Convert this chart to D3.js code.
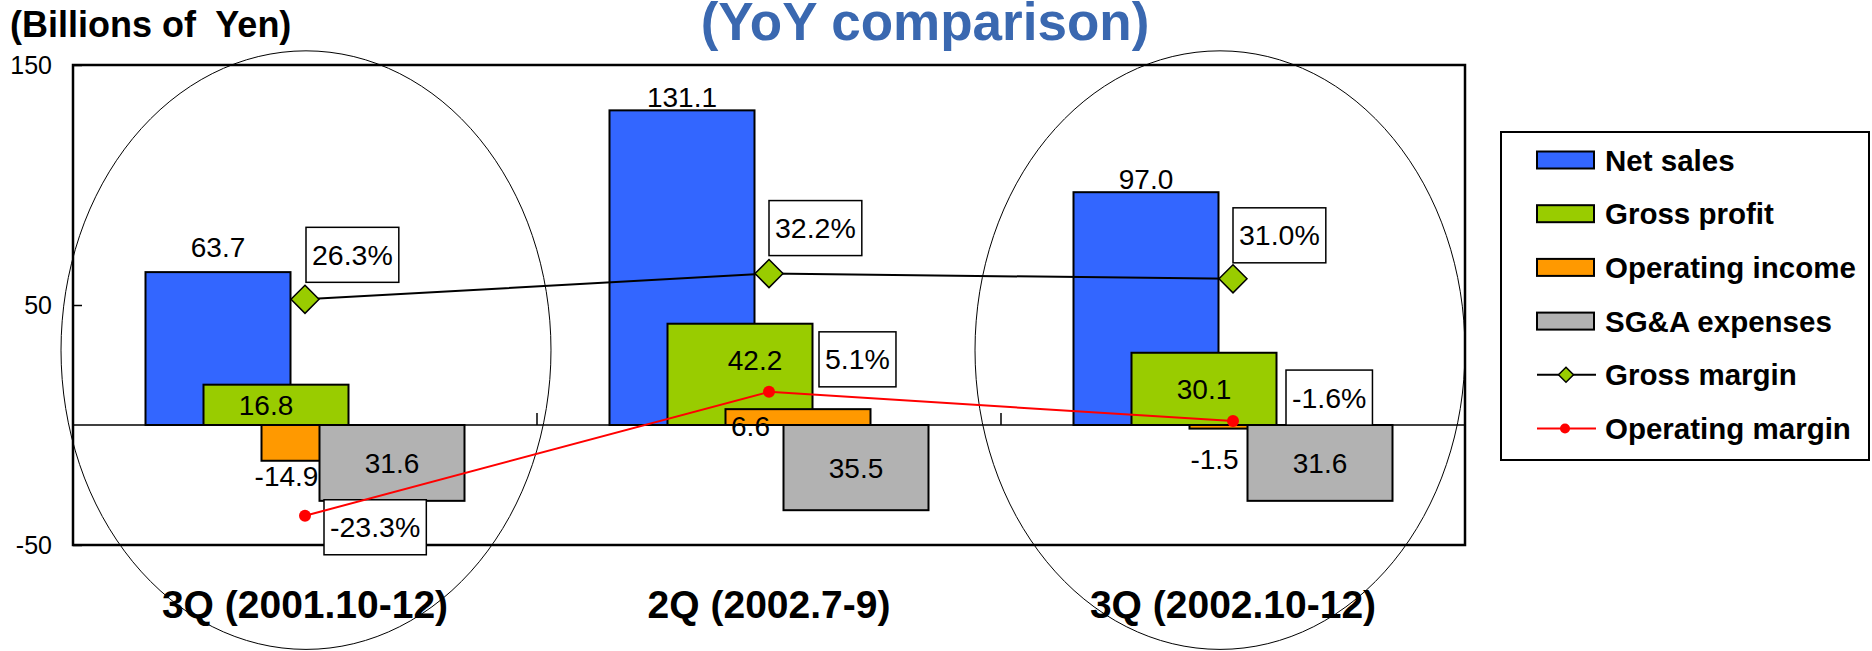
<!DOCTYPE html>
<html>
<head>
<meta charset="utf-8">
<script src="https://cdn.jsdelivr.net/npm/d3@7"></script>
<style>
  body { margin: 0; background: #fff; }
  svg text { font-family: "Liberation Sans", Arial, sans-serif; }
</style>
</head>
<body>
<svg width="1872" height="651"></svg>
<script>
// data
var categories = ["3Q (2001.10-12)", "2Q (2002.7-9)", "3Q (2002.10-12)"];
var netSales = [63.7, 131.1, 97.0];
var grossProfit = [16.8, 42.2, 30.1];
var operatingIncome = [-14.9, 6.6, -1.5];
var sgaExpenses = [31.6, 35.5, 31.6];   // drawn below zero
var grossMargin = [26.3, 32.2, 31.0];
var operatingMargin = [-23.3, 5.1, -1.6];
var yTicks = [-50, 50, 150];

var svg = d3.select("svg");
// note: "top" is taken by window.top, so plot bounds get a prefix
var plotLeft = 73, plotRight = 1465, plotTop = 65, plotBottom = 545;

var colors = {
    net: "#3366FF",
    gross: "#99CC00",
    op: "#FF9900",
    sga: "#B2B2B2",
    title: "#3A68B0"
};

var x = d3.scaleBand().domain(categories).range([plotLeft, plotRight]).padding(0);
var bw = x.bandwidth();
var barW = bw * 0.3125;

var seriesNames = ["net", "gross", "op", "sga"];
var sx = d3.scalePoint().domain(seriesNames).range([bw * 0.15625, bw * 0.15625 + bw * 3 / 8]);

var y = d3.scaleLinear().domain([-50, 150]).range([plotBottom, plotTop]);
var y2 = d3.scaleLinear().domain([-30, 80]).range([plotBottom, plotTop]);

var barSeries = [
    { key: "net", values: netSales, sign: 1 },
    { key: "gross", values: grossProfit, sign: 1 },
    { key: "op", values: operatingIncome, sign: 1 },
    { key: "sga", values: sgaExpenses, sign: -1 }
];

// ellipses round the two compared quarters
var ellipses = [
    { cat: categories[0], dx: 1 },
    { cat: categories[2], dx: -13 }
];
svg.append("g").selectAll("ellipse")
    .data(ellipses)
    .enter().append("ellipse")
    .attr("cx", function(d) { return x(d.cat) + bw / 2 + d.dx; })
    .attr("cy", y(31.2))
    .attr("rx", bw * 0.528)
    .attr("ry", y(-93.5) - y(31.2))
    .attr("fill", "none")
    .attr("stroke", "#000")
    .attr("stroke-width", 1);

// frame
svg.append("rect")
    .attr("x", plotLeft).attr("y", plotTop)
    .attr("width", plotRight - plotLeft).attr("height", plotBottom - plotTop)
    .attr("fill", "none")
    .attr("stroke", "#000")
    .attr("stroke-width", 2.5);

// bars
var bars = svg.append("g");
barSeries.forEach(function(s) {
    bars.selectAll(".bar-" + s.key)
        .data(s.values)
        .enter().append("rect")
        .attr("class", "bar-" + s.key)
        .attr("x", function(d, i) { return x(categories[i]) + sx(s.key); })
        .attr("y", function(d) { return y(Math.max(0, d * s.sign)); })
        .attr("width", barW)
        .attr("height", function(d) { return Math.abs(y(d * s.sign) - y(0)); })
        .attr("fill", colors[s.key])
        .attr("stroke", "#000")
        .attr("stroke-width", 2);
});

// zero line and category ticks
svg.append("line")
    .attr("x1", plotLeft).attr("x2", plotRight)
    .attr("y1", y(0)).attr("y2", y(0))
    .attr("stroke", "#000").attr("stroke-width", 1.5);

svg.append("g").selectAll("line")
    .data(categories.slice(1))
    .enter().append("line")
    .attr("x1", function(d) { return x(d); })
    .attr("x2", function(d) { return x(d); })
    .attr("y1", y(0)).attr("y2", y(0) - 12)
    .attr("stroke", "#000").attr("stroke-width", 1.5);

// y axis
var yAxis = d3.axisLeft(y)
    .tickValues(yTicks)
    .tickFormat(function(d) { return String(d); })
    .tickSizeInner(-9)
    .tickSizeOuter(0)
    .tickPadding(21);

var yg = svg.append("g")
    .attr("transform", "translate(" + plotLeft + ",0)")
    .call(yAxis);
yg.select(".domain").remove();
yg.selectAll(".tick line").attr("stroke", "#000").attr("stroke-width", 1.5);
yg.selectAll(".tick text")
    .attr("fill", "#000")
    .style("font-size", "25px")
    .style("font-family", "'Liberation Sans', Arial, sans-serif");

// bar value labels
function valueText(txt, cx, by) {
    svg.append("text")
        .attr("x", cx).attr("y", by)
        .attr("text-anchor", "middle")
        .style("font-size", "28px")
        .attr("fill", "#000")
        .text(txt);
}

var netLift = [12, 0, 0];
var greenNudge = [[-10, 0], [15, -14], [0, 0]];
var orangeDrop = [25, 27, 40];

categories.forEach(function(c, i) {
    var x0 = x(c);
    valueText(netSales[i].toFixed(1), x0 + sx("net") + barW / 2, y(netSales[i]) - 3 - netLift[i]);
    valueText(grossProfit[i].toFixed(1),
        x0 + sx("gross") + barW / 2 + greenNudge[i][0],
        (y(grossProfit[i]) + y(0)) / 2 + 10 + greenNudge[i][1]);
    valueText(operatingIncome[i].toFixed(1),
        x0 + sx("op") + 25, y(operatingIncome[i]) + orangeDrop[i]);
    valueText(sgaExpenses[i].toFixed(1),
        x0 + sx("sga") + barW / 2, (y(-sgaExpenses[i]) + y(0)) / 2 + 10);
});

// margin label boxes
var grossBox = [[1, -72], [0, -73], [0, -71]];
var opBox = [[19, -16], [50, -60], [53, -51]];

function boxLabel(txt, bx, by) {
    var g = svg.append("g");
    var r = g.append("rect")
        .attr("y", by).attr("height", 55)
        .attr("fill", "#fff")
        .attr("stroke", "#000")
        .attr("stroke-width", 1.5);
    var t = g.append("text")
        .attr("y", by + 27.5 + 10)
        .style("font-size", "28.5px")
        .attr("fill", "#000")
        .text(txt);
    var w = t.node().getComputedTextLength() + 12;
    r.attr("x", bx).attr("width", w);
    t.attr("x", bx + 6);
}

categories.forEach(function(c, i) {
    var cx = x(c) + bw / 2;
    boxLabel(grossMargin[i].toFixed(1) + "%", cx + grossBox[i][0], y2(grossMargin[i]) + grossBox[i][1]);
    boxLabel(operatingMargin[i].toFixed(1) + "%", cx + opBox[i][0], y2(operatingMargin[i]) + opBox[i][1]);
});

// margin lines
var marginLine = d3.line()
    .x(function(d, i) { return x(categories[i]) + bw / 2; })
    .y(function(d) { return y2(d); });

svg.append("path")
    .datum(grossMargin)
    .attr("d", marginLine)
    .attr("fill", "none")
    .attr("stroke", "#000")
    .attr("stroke-width", 2);

svg.append("path")
    .datum(operatingMargin)
    .attr("d", marginLine)
    .attr("fill", "none")
    .attr("stroke", "#FF0000")
    .attr("stroke-width", 2);

svg.append("g").selectAll("path")
    .data(grossMargin)
    .enter().append("path")
    .attr("transform", function(d, i) { return "translate(" + (x(categories[i]) + bw / 2) + "," + y2(d) + ")"; })
    .attr("d", "M0,-14L14,0L0,14L-14,0Z")
    .attr("fill", colors.gross)
    .attr("stroke", "#000")
    .attr("stroke-width", 1.5);

svg.append("g").selectAll("circle")
    .data(operatingMargin)
    .enter().append("circle")
    .attr("cx", function(d, i) { return x(categories[i]) + bw / 2; })
    .attr("cy", function(d) { return y2(d); })
    .attr("r", 6)
    .attr("fill", "#FF0000");

// category labels
svg.append("g").selectAll("text")
    .data(categories)
    .enter().append("text")
    .attr("x", function(d) { return x(d) + bw / 2; })
    .attr("y", 618)
    .attr("text-anchor", "middle")
    .style("font-size", "39px")
    .style("font-weight", "bold")
    .attr("fill", "#000")
    .text(function(d) { return d; });

// titles
svg.append("text")
    .attr("x", 10).attr("y", 37)
    .style("font-size", "36px")
    .style("font-weight", "bold")
    .style("white-space", "pre")
    .attr("fill", "#000")
    .text("(Billions of  Yen)");

svg.append("text")
    .attr("x", 925).attr("y", 40)
    .attr("text-anchor", "middle")
    .style("font-size", "53px")
    .style("font-weight", "bold")
    .attr("fill", colors.title)
    .text("(YoY comparison)");

// legend
var legend = svg.append("g");
legend.append("rect")
    .attr("x", 1501).attr("y", 132)
    .attr("width", 368).attr("height", 328)
    .attr("fill", "#fff")
    .attr("stroke", "#000")
    .attr("stroke-width", 2);

var legendItems = [
    { label: "Net sales", type: "bar", color: colors.net },
    { label: "Gross profit", type: "bar", color: colors.gross },
    { label: "Operating income", type: "bar", color: colors.op },
    { label: "SG&A expenses", type: "bar", color: colors.sga },
    { label: "Gross margin", type: "diamond", color: "#000" },
    { label: "Operating margin", type: "dot", color: "#FF0000" }
];

legendItems.forEach(function(d, i) {
    var cy = 160 + i * 53.7;
    if (d.type === "bar") {
        legend.append("rect")
            .attr("x", 1537).attr("y", cy - 8.5)
            .attr("width", 57).attr("height", 17)
            .attr("fill", d.color)
            .attr("stroke", "#000")
            .attr("stroke-width", 2);
    } else {
        legend.append("line")
            .attr("x1", 1537).attr("x2", 1596)
            .attr("y1", cy).attr("y2", cy)
            .attr("stroke", d.color)
            .attr("stroke-width", 2);
        if (d.type === "diamond") {
            legend.append("path")
                .attr("transform", "translate(1566," + cy + ")")
                .attr("d", "M0,-7.5L7.5,0L0,7.5L-7.5,0Z")
                .attr("fill", colors.gross)
                .attr("stroke", "#000")
                .attr("stroke-width", 1.5);
        } else {
            legend.append("circle")
                .attr("cx", 1565).attr("cy", cy).attr("r", 5)
                .attr("fill", "#FF0000");
        }
    }
    legend.append("text")
        .attr("x", 1605).attr("y", cy + 10.5)
        .style("font-size", "29.5px")
        .style("font-weight", "bold")
        .attr("fill", "#000")
        .text(d.label);
});
</script>
</body>
</html>
